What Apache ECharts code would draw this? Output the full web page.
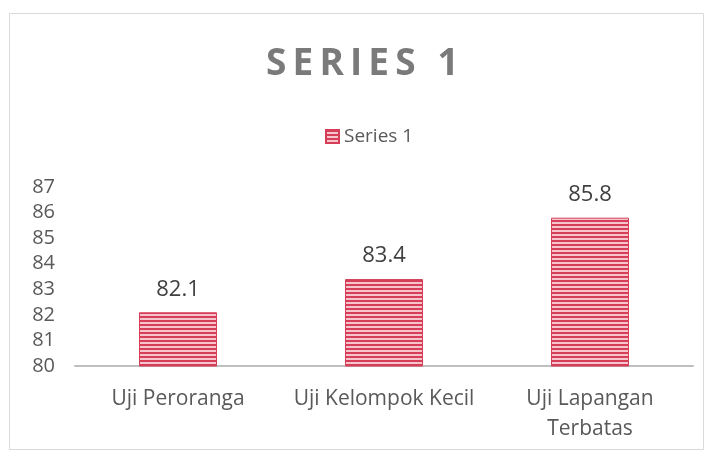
<!DOCTYPE html>
<html><head><meta charset="utf-8">
<script src="https://cdn.jsdelivr.net/npm/echarts@6/dist/echarts.min.js"></script>
<style>html,body{margin:0;padding:0;background:#fff}#c{width:710px;height:452px}</style>
</head><body><div id="c"></div>
<script>
const categories = ['Uji Peroranga', 'Uji Kelompok Kecil', 'Uji Lapangan\nTerbatas'];
const values = [82.1, 83.4, 85.8];
const seriesName = 'Series 1';
const titleText = 'SERIES 1';

function stripes() {
  const cv = document.createElement('canvas');
  cv.width = 8; cv.height = 4;
  const g = cv.getContext('2d');
  g.fillStyle = '#f6c4cc'; g.fillRect(0, 0, 8, 4);
  g.fillStyle = '#d63e58'; g.fillRect(0, 0, 8, 2);
  return cv;
}
const pat = { image: stripes(), repeat: 'repeat' };
const spaced = titleText.split('').join('\u2009');

const chart = echarts.init(document.getElementById('c'), null, { renderer: 'canvas' });
chart.setOption({
  animation: false,
  backgroundColor: '#fff',
  graphic: [{ type: 'rect', shape: { x: 9.5, y: 13.5, width: 694, height: 436 }, style: { fill: 'none', stroke: '#d9d9d9', lineWidth: 1 }, silent: true }],
  title: {
    text: spaced, left: 261, top: 41,
    textStyle: { fontFamily: 'Open Sans', fontWeight: 'bold', fontSize: 37, color: '#7a7a7a' }
  },
  legend: {
    data: [seriesName], top: 122, left: 320, itemWidth: 13, itemHeight: 13, itemGap: 4, icon: 'rect',
    textStyle: { fontFamily: 'Open Sans', fontSize: 19, color: '#595959' }
  },
  grid: { left: 75, right: 17, top: 187, bottom: 86, containLabel: false },
  xAxis: {
    type: 'category', data: categories,
    axisLine: { lineStyle: { color: '#bfbfbf', width: 2 } },
    axisTick: { show: false },
    axisLabel: { fontFamily: 'Open Sans', fontSize: 21, color: '#595959', margin: 18, lineHeight: 30, interval: 0 }
  },
  yAxis: {
    type: 'value', min: 80, max: 87, interval: 1,
    splitLine: { show: false }, axisLine: { show: false }, axisTick: { show: false },
    axisLabel: { fontFamily: 'Open Sans', fontSize: 20, color: '#595959', margin: 20 }
  },
  series: [{
    name: seriesName, type: 'bar', data: values, barWidth: 78,
    itemStyle: { color: pat, borderColor: '#d63e58', borderWidth: 1 },
    label: { show: true, position: 'top', distance: 12, fontFamily: 'Open Sans', fontSize: 22, color: '#404040' }
  }]
});
</script></body></html>
